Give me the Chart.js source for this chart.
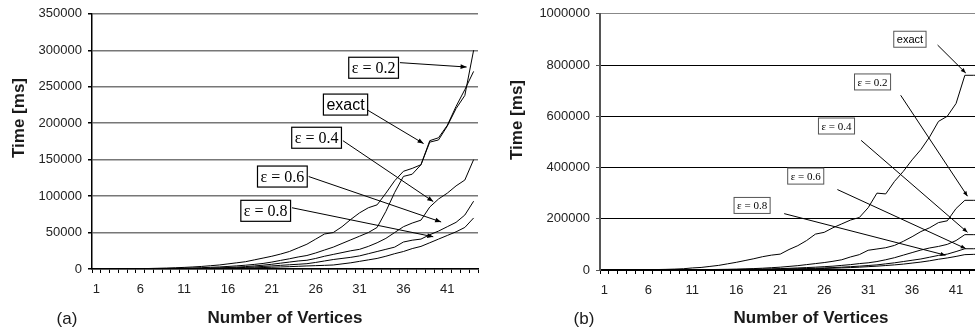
<!DOCTYPE html>
<html>
<head>
<meta charset="utf-8">
<script src="https://cdn.jsdelivr.net/npm/chart.js@4.4.0/dist/chart.umd.min.js"></script>
<style>
  html, body { margin: 0; padding: 0; background: #fff; overflow: hidden; width: 975px; height: 332px; }
  #wrapA { position: absolute; left: 0; top: 0; width: 490px; height: 332px; }
  #wrapB { position: absolute; left: 490px; top: 0; width: 545px; height: 332px; }
</style>
</head>
<body>
<div id="wrapA"><canvas id="chartA" width="490" height="332"></canvas></div>
<div id="wrapB"><canvas id="chartB" width="545" height="332"></canvas></div>
<script>
/* ===== DATA ===== */
const VERTICES_A = ['1','2','3','4','5','6','7','8','9','10','11','12','13','14','15','16','17','18','19','20','21','22',
  '23','24','25','26','27','28','29','30','31','32','33','34','35','36','37','38','39','40','41','42','43','44'];
const VERTICES_B = ['1','2','3','4','5','6','7','8','9','10','11','12','13','14','15','16','17','18','19','20','21','22','23','24',
  '25','26','27','28','29','30','31','32','33','34','35','36','37','38','39','40','41','42','43','44','45','46','47','48'];

// (a) time in ms
const A_EXACT = [0,0,100,200,300,500,700,1000,1300,1700,
  2200,2800,3500,4500,5500,7000,8500,10000,12500,15000,
  17500,20500,24000,29000,34000,41000,48000,50000,58000,68000,
  77000,84000,88000,104000,121000,134000,138000,143000,176000,180000,
  197000,223000,246000,271000];
const A_EPS02 = [0,0,0,100,200,300,400,500,700,900,
  1100,1400,1800,2300,2800,3500,4300,5200,6300,7600,
  9500,11800,14000,16500,18500,22000,26000,30000,35000,40000,
  45000,50000,57000,79000,105000,127000,130000,143000,174000,177000,
  196000,220000,238000,300000];
const A_EPS04 = [0,0,0,0,100,100,200,300,400,500,
  600,800,1000,1300,1600,2000,2600,3300,4200,5200,
  6500,8000,9500,11000,12000,14500,17500,20000,22500,25000,
  27000,31000,36000,42000,50000,58000,63000,67000,85000,96000,
  104000,114000,122000,150000];
const A_EPS06 = [0,0,0,0,0,100,100,200,200,300,
  400,500,600,800,1000,1300,1700,2200,2800,3500,
  4200,5000,5800,6500,7300,9000,11000,13000,14500,16000,
  18000,21000,24000,27000,30000,37000,39500,41000,47000,52000,
  58000,64000,74000,93000];
const A_EPS08 = [0,0,0,0,0,0,100,100,100,200,
  200,300,400,500,600,800,1000,1300,1600,2000,
  2400,2800,3200,3700,4200,4600,5000,5500,7000,8500,
  10500,12500,14500,17500,21000,24000,28000,31000,36000,41000,
  46000,51000,57000,70000];

// (b) time in ms
const B_EXACT = [0,0,200,500,800,1200,1800,2500,3500,5000,
  8000,10000,14000,18000,24000,30000,37000,44000,52000,58000,
  62000,80000,95000,115000,140000,147000,165000,180000,195000,205000,
  243000,300000,297000,346000,385000,430000,470000,520000,580000,600000,
  650000,760000,760000,760000];
const B_EPS02 = [0,0,0,0,100,200,300,400,600,800,
  1000,1300,1700,2200,2800,3500,4500,5500,7000,9000,
  11000,14000,17000,21000,25000,29000,34000,40000,51000,60000,
  77000,82000,87000,96000,112000,130000,150000,165000,185000,192000,
  240000,272000,272000,272000];
const B_EPS04 = [0,0,0,0,0,100,100,200,300,400,
  500,700,900,1200,1500,2000,2500,3000,3800,4600,
  5500,6500,8000,9500,11000,13000,15000,18000,21000,25000,
  28000,33000,40000,48000,58000,68000,78000,86000,92000,100000,
  115000,138000,138000,138000];
const B_EPS06 = [0,0,0,0,0,0,100,100,200,200,
  300,400,500,700,900,1100,1400,1800,2200,2700,
  3200,3900,4700,5600,6700,8000,9500,11000,13000,15000,
  17500,20000,24000,28000,33000,38000,43000,50000,57000,62000,
  72000,83000,83000,84000];
const B_EPS08 = [0,0,0,0,0,0,0,100,100,100,
  200,300,400,500,600,800,1000,1300,1600,2000,
  2400,2900,3500,4200,5000,6000,7000,8200,9500,11000,
  13000,15000,17500,20000,23000,27000,31000,36000,42000,47000,
  53000,60000,61000,62000];

/* ===== ANNOTATIONS (category index, value) ===== */
const NOTES_A = [
  {text: 'ε = 0.2', serif: true,  box: [31.6, 276000], from: [34.6, 283000], to: [42.2, 277000]},
  {text: 'exact',   serif: false, box: [28.4, 225500], from: [30.9, 218000], to: [37.3, 172000]},
  {text: 'ε = 0.4', serif: true,  box: [25.1, 180000], from: [28.1, 176000], to: [38.4, 92500]},
  {text: 'ε = 0.6', serif: true,  box: [21.2, 126800], from: [24.2, 126800], to: [39.3, 64500]},
  {text: 'ε = 0.8', serif: true,  box: [19.3, 79800],  from: [22.3, 84000],  to: [38.4, 44200]}
];
const NOTES_B = [
  {text: 'exact',   serif: false, box: [34.75, 900700], from: [37.9, 878000], to: [41.1, 769000]},
  {text: 'ε = 0.2', serif: true,  box: [30.5, 734000],  from: [33.7, 682000], to: [41.3, 288000]},
  {text: 'ε = 0.4', serif: true,  box: [26.4, 562000],  from: [29.2, 506000], to: [41.3, 147000]},
  {text: 'ε = 0.6', serif: true,  box: [22.9, 366500],  from: [26.5, 314000], to: [41.1, 83500]},
  {text: 'ε = 0.8', serif: true,  box: [16.8, 252000],  from: [20.45, 220000], to: [38.8, 57700]}
];

/* ===== HELPERS ===== */
const SANS = '"Liberation Sans", Arial, sans-serif';
const SERIF = '"Liberation Serif", "Times New Roman", serif';

function drawNote(ctx, chart, note, st) {
  const sx = chart.scales.x, sy = chart.scales.y;
  const px = p => sx.getPixelForValue(p[0]), py = p => sy.getPixelForValue(p[1]);
  const x0 = px(note.from), y0 = py(note.from), x1 = px(note.to), y1 = py(note.to);
  ctx.strokeStyle = '#000'; ctx.fillStyle = '#000'; ctx.lineWidth = 1;
  ctx.beginPath(); ctx.moveTo(x0, y0); ctx.lineTo(x1, y1); ctx.stroke();
  const a = Math.atan2(y1 - y0, x1 - x0), L = st.head, W = st.head * 0.4;
  ctx.beginPath();
  ctx.moveTo(x1, y1);
  ctx.lineTo(x1 - L * Math.cos(a) + W * Math.sin(a), y1 - L * Math.sin(a) - W * Math.cos(a));
  ctx.lineTo(x1 - L * Math.cos(a) - W * Math.sin(a), y1 - L * Math.sin(a) + W * Math.cos(a));
  ctx.closePath(); ctx.fill();

  ctx.font = note.serif ? st.serif : st.sans;
  const w = ctx.measureText(note.text).width + 2 * st.padX;
  const bx = px(note.box), by = py(note.box);
  ctx.fillStyle = '#fff';
  ctx.fillRect(bx - w / 2, by - st.h / 2, w, st.h);
  ctx.strokeStyle = st.border; ctx.lineWidth = st.borderW;
  ctx.strokeRect(bx - w / 2, by - st.h / 2, w, st.h);
  ctx.fillStyle = '#000';
  ctx.textAlign = 'center'; ctx.textBaseline = 'middle';
  ctx.fillText(note.text, bx, by + 1);
}

// axis titles, panel letter and arrow notes
const paperText = {
  id: 'paperText',
  afterDraw(chart, args, o) {
    const {ctx, chartArea} = chart;
    ctx.save();
    ctx.fillStyle = '#1a1a1a';
    ctx.textAlign = 'center'; ctx.textBaseline = 'middle';
    ctx.font = 'bold 17px ' + SANS;
    ctx.fillText('Number of Vertices', (chartArea.left + chartArea.right) / 2, o.xTitleY);
    ctx.font = '17px ' + SANS;
    ctx.fillText(o.panel, o.panelX, o.panelY);
    ctx.save();
    ctx.translate(o.yTitleX, o.yTitleY); ctx.rotate(-Math.PI / 2);
    ctx.font = 'bold 17px ' + SANS;
    ctx.fillText('Time [ms]', 0, 0);
    ctx.restore();
    o.notes.forEach(n => drawNote(ctx, chart, n, o.noteStyle));
    ctx.restore();
  }
};

function series(arr) {
  return {data: arr, borderColor: '#000', borderWidth: 1, pointRadius: 0, fill: false, tension: 0};
}

function xAxis(height) {
  return {
    offset: true,
    ticks: {autoSkip: false, maxRotation: 0, color: '#222', font: {family: SANS, size: 13}, padding: 9,
      callback(v, i) { return i % 5 === 0 ? this.getLabelForValue(v) : ''; }},
    grid: {offset: true, drawOnChartArea: false, tickLength: 4, color: '#000'},
    border: {color: '#000', width: 1.5},
    afterFit: s => { s.height = height; }
  };
}

/* ===== MAIN ===== */
new Chart(document.getElementById('chartA'), {
  type: 'line',
  data: {labels: VERTICES_A, datasets: [A_EXACT, A_EPS02, A_EPS04, A_EPS06, A_EPS08].map(series)},
  options: {
    responsive: false, animation: false,
    layout: {padding: {left: 0, right: 12, top: 10, bottom: 0}},
    plugins: {
      legend: {display: false}, tooltip: {enabled: false},
      paperText: {xTitleY: 318, panel: '(a)', panelX: 67, panelY: 319, yTitleX: 19, yTitleY: 118, notes: NOTES_A,
        noteStyle: {serif: '16px ' + SERIF, sans: '16px ' + SANS, padX: 3, h: 21, border: '#000', borderW: 1.2, head: 6}}
    },
    scales: {
      x: xAxis(63),
      y: {
        min: 0, max: 350000,
        ticks: {stepSize: 50000, color: '#222', font: {family: SANS, size: 13}, padding: 6, callback: v => String(v)},
        grid: {color: '#777', lineWidth: 1.5, tickLength: 4, tickColor: '#000'},
        border: {color: '#000', width: 1.5},
        afterFit: s => { s.width = 92; }
      }
    }
  },
  plugins: [paperText]
});

new Chart(document.getElementById('chartB'), {
  type: 'line',
  data: {labels: VERTICES_B, datasets: [B_EXACT, B_EPS02, B_EPS04, B_EPS06, B_EPS08].map(series)},
  options: {
    responsive: false, animation: false,
    layout: {padding: {left: 0, right: 13, top: 10, bottom: 0}},
    plugins: {
      legend: {display: false}, tooltip: {enabled: false},
      paperText: {xTitleY: 318, panel: '(b)', panelX: 94, panelY: 319, yTitleX: 27, yTitleY: 120, notes: NOTES_B,
        noteStyle: {serif: '11px ' + SERIF, sans: '11px ' + SANS, padX: 3, h: 16, border: '#555', borderW: 1, head: 5}}
    },
    scales: {
      x: xAxis(62),
      y: {
        min: 0, max: 1000000,
        ticks: {stepSize: 200000, color: '#222', font: {family: SANS, size: 13}, padding: 6, callback: v => String(v)},
        grid: {color: c => (c.tick && c.tick.value === 1000000 ? '#888' : '#000'), lineWidth: 1, tickLength: 4, tickColor: '#555'},
        border: {color: '#555', width: 2},
        afterFit: s => { s.width = 110; }
      }
    }
  },
  plugins: [paperText]
});
</script>
</body>
</html>
